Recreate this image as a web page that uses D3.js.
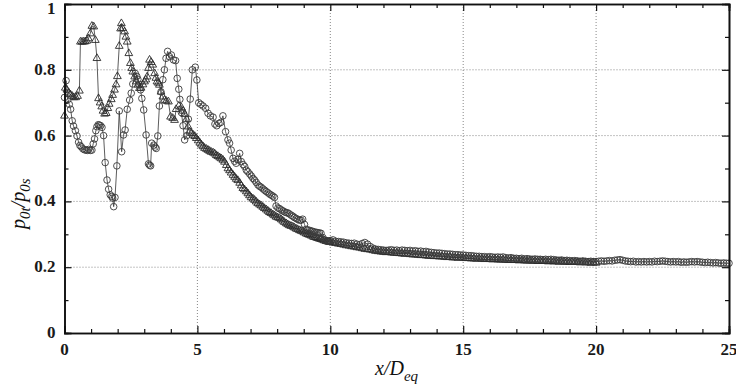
<!DOCTYPE html>
<html>
<head>
<meta charset="utf-8">
<script src="https://cdn.jsdelivr.net/npm/d3@7"></script>
<style>
    body { margin: 0; background: #fff; }
    .tick-label { font-family: "Liberation Serif", "Times New Roman", serif; font-size: 17px; font-weight: bold; fill: #1a1a1a; }
    .axis-title { font-family: "Liberation Serif", "Times New Roman", serif; font-style: italic; fill: #111; }
</style>
</head>
<body>
<svg id="chart" width="736" height="389"></svg>
<script>
// circles, near field (x/Deq, p0t/p0s)
const circNear = [
    [0.00,0.716],[0.06,0.767],[0.13,0.71],[0.18,0.695],[0.23,0.68],[0.29,0.645],[0.34,0.629],[0.41,0.615],
    [0.47,0.599],[0.53,0.58],[0.58,0.57],[0.63,0.566],[0.69,0.56],[0.75,0.557],[0.81,0.556],[0.86,0.555],
    [0.91,0.558],[0.97,0.555],[1.03,0.556],[1.08,0.575],[1.13,0.59],[1.18,0.615],[1.22,0.627],[1.27,0.633],
    [1.31,0.632],[1.36,0.63],[1.41,0.625],[1.47,0.6],[1.53,0.518],[1.6,0.465],[1.66,0.437],[1.72,0.42],
    [1.78,0.415],[1.81,0.41],[1.85,0.384],[1.9,0.412],[1.97,0.508],[2.06,0.675],[2.15,0.551],[2.22,0.602],
    [2.28,0.617],[2.36,0.68],[2.45,0.708],[2.51,0.729],[2.57,0.757],[2.66,0.789],[2.72,0.78],[2.76,0.771],
    [2.81,0.755],[2.86,0.739],[2.91,0.713],[2.98,0.678],[3.07,0.602],[3.16,0.514],[3.2,0.51],[3.24,0.508],
    [3.28,0.577],[3.36,0.571],[3.41,0.565],[3.45,0.561],[3.51,0.599],[3.57,0.69],[3.63,0.733],[3.7,0.77],
    [3.76,0.8],[3.82,0.835],[3.88,0.856],[3.95,0.84],[4.02,0.845],[4.1,0.83],[4.18,0.828],[4.24,0.774],
    [4.3,0.741],[4.34,0.71],[4.4,0.67],[4.46,0.63],[4.52,0.587],[4.6,0.6],[4.66,0.65],[4.73,0.711],
    [4.81,0.8],[4.92,0.808],[4.98,0.769],[5.05,0.7],[5.13,0.695],[5.21,0.69],[5.31,0.683],[5.4,0.668],
    [5.49,0.66],[5.59,0.656],[5.66,0.635],[5.73,0.63],[5.81,0.637],[5.88,0.64],[5.96,0.66],[6.06,0.612],
    [6.15,0.587],[6.21,0.577],[6.27,0.556],[6.34,0.531],[6.4,0.522],[6.46,0.516],[6.53,0.528],[6.59,0.546],
    [6.65,0.521],[6.72,0.512],[6.78,0.506],[6.84,0.495],[6.9,0.49],[6.97,0.483],[7.03,0.477],[7.09,0.47],
    [7.15,0.465],[7.21,0.458],[7.28,0.45],[7.34,0.446],[7.4,0.443],[7.47,0.438],[7.53,0.434],[7.59,0.43],
    [7.66,0.426],[7.72,0.422],[7.78,0.419],[7.84,0.416],[7.9,0.412],[7.96,0.386],[8.03,0.38],[8.09,0.378],
    [8.16,0.374],[8.22,0.371],[8.28,0.368],[8.34,0.366],[8.4,0.365],[8.46,0.362],[8.53,0.358],[8.59,0.355],
    [8.65,0.351],[8.72,0.348],[8.78,0.345],[8.84,0.343],[8.9,0.343],[8.96,0.346],[9.03,0.33],[9.09,0.315],
    [9.15,0.313],[9.22,0.312],[9.28,0.31],[9.34,0.309],[9.4,0.307],[9.47,0.306],[9.53,0.305],[9.59,0.304],
    [9.65,0.303],[9.72,0.29],[9.78,0.282],[9.84,0.28],[9.9,0.279],[9.96,0.279]
];

// circles, far field
const circFar = [
    [10.0,.281],[10.1,.283],[10.2,.279],[10.3,.278],[10.4,.277],[10.5,.276],[10.6,.274],[10.7,.273],[10.8,.272],[10.9,.273],
    [11.0,.27],[11.1,.268],[11.2,.272],[11.3,.275],[11.4,.27],[11.5,.263],[11.6,.258],[11.7,.255],[11.8,.254],[11.9,.253],
    [12.0,.252],[12.1,.251],[12.2,.252],[12.3,.253],[12.4,.251],[12.5,.252],[12.6,.25],[12.7,.252],[12.8,.251],[12.9,.25],
    [13.0,.251],[13.1,.249],[13.2,.25],[13.3,.248],[13.4,.249],[13.5,.247],[13.6,.248],[13.7,.246],[13.8,.245],[13.9,.244],
    [14.0,.243],[14.1,.243],[14.2,.242],[14.3,.241],[14.4,.24],[14.5,.24],[14.6,.239],[14.7,.238],[14.8,.238],[14.9,.237],
    [15.0,.237],[15.1,.236],[15.2,.235],[15.3,.235],[15.4,.234],[15.5,.233],[15.6,.233],[15.7,.232],[15.8,.232],[15.9,.231],
    [16.0,.232],[16.1,.231],[16.2,.23],[16.3,.231],[16.4,.23],[16.5,.231],[16.6,.229],[16.7,.228],[16.8,.229],[16.9,.227],
    [17.0,.227],[17.1,.226],[17.2,.227],[17.3,.225],[17.4,.226],[17.5,.225],[17.6,.224],[17.7,.225],[17.8,.224],[17.9,.224],
    [18.0,.223],[18.1,.224],[18.2,.223],[18.3,.224],[18.4,.223],[18.5,.222],[18.6,.221],[18.7,.222],[18.8,.22],[18.9,.221],
    [19.0,.22],[19.1,.219],[19.2,.22],[19.3,.219],[19.4,.218],[19.5,.219],[19.6,.218],[19.7,.217],[19.8,.218],[19.9,.217],
    [20.0,.217],[20.1,.218],[20.2,.219],[20.3,.218],[20.4,.219],[20.5,.22],[20.6,.219],[20.7,.221],[20.8,.222],[20.9,.223],
    [21.0,.221],[21.1,.219],[21.2,.218],[21.3,.217],[21.4,.218],[21.5,.216],[21.6,.217],[21.7,.216],[21.8,.217],[21.9,.216],
    [22.0,.217],[22.1,.216],[22.2,.218],[22.3,.217],[22.4,.218],[22.5,.219],[22.6,.218],[22.7,.217],[22.8,.216],[22.9,.217],
    [23.0,.216],[23.1,.217],[23.2,.215],[23.3,.216],[23.4,.215],[23.5,.216],[23.6,.217],[23.7,.216],[23.8,.217],[23.9,.216],
    [24.0,.215],[24.1,.214],[24.2,.215],[24.3,.214],[24.4,.213],[24.5,.214],[24.6,.213],[24.7,.212],[24.8,.213],[24.9,.212],
    [25.0,.212]
];

// triangles, near field
const triNear = [
    [0.0,0.66],[0.03,0.745],[0.09,0.739],[0.16,0.73],[0.22,0.725],[0.29,0.72],[0.35,0.716],[0.42,0.716],
    [0.49,0.72],[0.56,0.736],[0.6,0.885],[0.66,0.885],[0.72,0.885],[0.78,0.886],[0.84,0.888],[0.9,0.895],
    [0.97,0.91],[1.03,0.933],[1.1,0.931],[1.16,0.89],[1.22,0.835],[1.28,0.713],[1.34,0.7],[1.4,0.688],
    [1.45,0.675],[1.51,0.666],[1.57,0.668],[1.63,0.683],[1.68,0.696],[1.76,0.71],[1.81,0.723],[1.88,0.739],
    [1.94,0.755],[1.99,0.78],[2.06,0.872],[2.11,0.925],[2.14,0.941],[2.18,0.926],[2.26,0.916],[2.31,0.9],
    [2.36,0.885],[2.42,0.85],[2.48,0.82],[2.53,0.805],[2.57,0.794],[2.64,0.779],[2.7,0.764],[2.76,0.754],
    [2.82,0.744],[2.88,0.745],[2.95,0.755],[3.01,0.764],[3.06,0.77],[3.11,0.779],[3.16,0.805],[3.2,0.83],
    [3.26,0.823],[3.32,0.815],[3.39,0.789],[3.44,0.775],[3.48,0.764],[3.53,0.76],[3.57,0.754],[3.63,0.733],
    [3.7,0.718],[3.76,0.708],[3.83,0.705],[3.91,0.703],[3.99,0.657],[4.07,0.653],[4.14,0.647],[4.2,0.68],
    [4.3,0.69],[4.4,0.685],[4.46,0.675],[4.52,0.665],[4.59,0.65],[4.65,0.627],[4.71,0.612],[4.78,0.607],
    [4.84,0.602],[4.9,0.598],[4.96,0.592],[5.03,0.585],[5.09,0.578],[5.15,0.572],[5.21,0.567],[5.27,0.562],
    [5.34,0.559],[5.4,0.556],[5.46,0.553],[5.52,0.55],[5.59,0.548],[5.65,0.545],[5.71,0.54],[5.77,0.537],
    [5.84,0.533],[5.9,0.53],[5.96,0.526],[6.02,0.52],[6.09,0.51],[6.15,0.5],[6.21,0.494],[6.27,0.487],
    [6.34,0.48],[6.4,0.474],[6.46,0.468],[6.52,0.464],[6.59,0.456],[6.65,0.448],[6.71,0.44],[6.77,0.436],
    [6.84,0.43],[6.9,0.424],[6.96,0.418],[7.02,0.412],[7.09,0.408],[7.15,0.404],[7.21,0.399],[7.27,0.394],
    [7.34,0.39],[7.4,0.387],[7.46,0.383],[7.52,0.379],[7.59,0.375],[7.65,0.371],[7.71,0.367],[7.77,0.364],
    [7.84,0.36],[7.9,0.357],[7.96,0.353],[8.02,0.351],[8.09,0.349],[8.15,0.345],[8.21,0.341],[8.27,0.337],
    [8.34,0.333],[8.4,0.33],[8.46,0.327],[8.52,0.325],[8.59,0.323],[8.65,0.32],[8.71,0.317],[8.77,0.315],
    [8.84,0.312],[8.9,0.31],[8.96,0.308],[9.02,0.305],[9.09,0.302],[9.15,0.3],[9.21,0.298],[9.27,0.296],
    [9.34,0.293],[9.4,0.291],[9.46,0.29],[9.52,0.288],[9.59,0.286],[9.65,0.285],[9.71,0.283],[9.77,0.281],
    [9.84,0.279],[9.9,0.278],[9.96,0.277]
];

// triangles, far field
const triFar = [
    [10.0,.276],[10.1,.274],[10.2,.273],[10.3,.271],[10.4,.27],[10.5,.268],[10.6,.266],[10.7,.265],[10.8,.263],[10.9,.262],
    [11.0,.26],[11.1,.259],[11.2,.257],[11.3,.255],[11.4,.254],[11.5,.253],[11.6,.251],[11.7,.249],[11.8,.248],[11.9,.247],
    [12.0,.246],[12.1,.245],[12.2,.246],[12.3,.244],[12.4,.243],[12.5,.243],[12.6,.242],[12.7,.241],[12.8,.24],[12.9,.241],
    [13.0,.239],[13.1,.238],[13.2,.238],[13.3,.237],[13.4,.236],[13.5,.236],[13.6,.235],[13.7,.234],[13.8,.234],[13.9,.233],
    [14.0,.233],[14.1,.232],[14.2,.232],[14.3,.231],[14.4,.23],[14.5,.231],[14.6,.229],[14.7,.229],[14.8,.228],[14.9,.229],
    [15.0,.228],[15.1,.227],[15.2,.227],[15.3,.226],[15.4,.226],[15.5,.225],[15.6,.226],[15.7,.225],[15.8,.224],[15.9,.225],
    [16.0,.224],[16.1,.223],[16.2,.224],[16.3,.223],[16.4,.222],[16.5,.223],[16.6,.222],[16.7,.221],[16.8,.222],[16.9,.221],
    [17.0,.221],[17.1,.22],[17.2,.221],[17.3,.22],[17.4,.219],[17.5,.22],[17.6,.219],[17.7,.219],[17.8,.218],[17.9,.219],
    [18.0,.218],[18.1,.218],[18.2,.217],[18.3,.218],[18.4,.217],[18.5,.217],[18.6,.216],[18.7,.217],[18.8,.216],[18.9,.216],
    [19.0,.215],[19.1,.216],[19.2,.215],[19.3,.215],[19.4,.214],[19.5,.215],[19.6,.214],[19.7,.214],[19.8,.213],[19.9,.214],
    [20.0,.213]
];

const xTicks = [0, 5, 10, 15, 20, 25];
const xMinorTicks = [1, 2, 3, 4, 6, 7, 8, 9, 11, 12, 13, 14, 16, 17, 18, 19, 21, 22, 23, 24];
const yTicks = [0, 0.2, 0.4, 0.6, 0.8, 1];
const yTickLabels = ["0", "0.2", "0.4", "0.6", "0.8", "1"];
const yMinorTicks = [0.1, 0.3, 0.5, 0.7, 0.9];

drawChart();

function drawChart() {
    let svg = d3.select("#chart");
    let margin = { top: 4, right: 7, bottom: 56, left: 64.5 };
    let width = 736 - margin.left - margin.right;
    let height = 389 - margin.top - margin.bottom;

    let body = svg.append("g")
        .attr("transform", `translate(${margin.left},${margin.top})`);

    let xScale = d3.scaleLinear().domain([0, 25]).range([0, width]);
    let yScale = d3.scaleLinear().domain([0, 1]).range([height, 0]);

    drawGrid(body, xScale, yScale, width, height);

    let circles = circNear.concat(circFar).map(d => ({ x: d[0], y: d[1] }));
    let triangles = triNear.concat(triFar).map(d => ({ x: d[0], y: d[1] }));

    drawSeries(body, triangles, xScale, yScale, "triangle");
    drawSeries(body, circles, xScale, yScale, "circle");

    drawAxes(body, xScale, yScale, width, height);
    drawTitles(svg);
}

function drawGrid(body, xScale, yScale, width, height) {
    let grid = body.append("g").attr("class", "grid");
    grid.selectAll("line.vgrid")
        .data(xTicks.filter(t => t > 0 && t < 25))
        .enter().append("line")
        .attr("class", "vgrid")
        .attr("x1", d => xScale(d)).attr("x2", d => xScale(d))
        .attr("y1", 0).attr("y2", height)
        .attr("stroke", "#888").attr("stroke-width", 1)
        .attr("stroke-dasharray", "1,2");
    grid.selectAll("line.hgrid")
        .data(yTicks.filter(t => t > 0 && t < 1))
        .enter().append("line")
        .attr("class", "hgrid")
        .attr("x1", 0).attr("x2", width)
        .attr("y1", d => yScale(d)).attr("y2", d => yScale(d))
        .attr("stroke", "#888").attr("stroke-width", 1)
        .attr("stroke-dasharray", "1,2");
}

function drawSeries(body, data, xScale, yScale, kind) {
    let line = d3.line()
        .x(d => xScale(d.x))
        .y(d => yScale(d.y));

    body.append("path")
        .datum(data)
        .attr("d", line)
        .attr("fill", "none")
        .attr("stroke", "#333")
        .attr("stroke-width", 0.8);

    if (kind === "circle") {
        body.append("g").selectAll("circle")
            .data(data)
            .enter().append("circle")
            .attr("cx", d => xScale(d.x))
            .attr("cy", d => yScale(d.y))
            .attr("r", 3.3)
            .attr("fill", "none")
            .attr("stroke", "#3a3a3a")
            .attr("stroke-width", 0.9);
    } else {
        let tri = d3.symbol().type(d3.symbolTriangle).size(26);
        body.append("g").selectAll("path")
            .data(data)
            .enter().append("path")
            .attr("d", tri)
            .attr("transform", d => `translate(${xScale(d.x)},${yScale(d.y)})`)
            .attr("fill", "none")
            .attr("stroke", "#2a2a2a")
            .attr("stroke-width", 0.9);
    }
}

function drawAxes(body, xScale, yScale, width, height) {
    let ax = body.append("g").attr("class", "axes");

    // bottom + top, inward ticks
    ax.append("g")
        .attr("transform", `translate(0,${height})`)
        .call(d3.axisBottom(xScale).tickValues(xTicks).tickSize(-7).tickFormat(""));
    ax.append("g")
        .attr("transform", `translate(0,${height})`)
        .call(d3.axisBottom(xScale).tickValues(xMinorTicks).tickSize(-4).tickFormat(""));
    ax.append("g")
        .call(d3.axisTop(xScale).tickValues(xTicks).tickSize(-7).tickFormat(""));
    ax.append("g")
        .call(d3.axisTop(xScale).tickValues(xMinorTicks).tickSize(-4).tickFormat(""));

    // left + right
    ax.append("g")
        .call(d3.axisLeft(yScale).tickValues(yTicks).tickSize(-7).tickFormat(""));
    ax.append("g")
        .call(d3.axisLeft(yScale).tickValues(yMinorTicks).tickSize(-4).tickFormat(""));
    ax.append("g")
        .attr("transform", `translate(${width},0)`)
        .call(d3.axisRight(yScale).tickValues(yTicks).tickSize(-7).tickFormat(""));
    ax.append("g")
        .attr("transform", `translate(${width},0)`)
        .call(d3.axisRight(yScale).tickValues(yMinorTicks).tickSize(-4).tickFormat(""));

    ax.selectAll(".domain").attr("stroke", "#111").attr("stroke-width", 1.6);
    ax.selectAll(".tick line").attr("stroke", "#111").attr("stroke-width", 1.2);

    // tick labels
    body.append("g").selectAll("text")
        .data(xTicks)
        .enter().append("text")
        .attr("class", "tick-label")
        .attr("x", d => xScale(d))
        .attr("y", height + 22)
        .attr("text-anchor", "middle")
        .text(d => d);
    body.append("g").selectAll("text")
        .data(yTicks)
        .enter().append("text")
        .attr("class", "tick-label")
        .attr("x", -9)
        .attr("y", d => Math.max(yScale(d) + 5, 10))
        .attr("text-anchor", "end")
        .text((d, i) => yTickLabels[i]);
}

function drawTitles(svg) {
    let xt = svg.append("text")
        .attr("class", "axis-title")
        .attr("x", 375)
        .attr("y", 375)
        .style("font-size", "20px");
    xt.append("tspan").text("x/D");
    xt.append("tspan").attr("dy", 6).style("font-size", "15px").text("eq");

    let yt = svg.append("text")
        .attr("class", "axis-title")
        .attr("transform", "translate(25,229) rotate(-90)")
        .style("font-size", "20px");
    yt.append("tspan").text("p");
    yt.append("tspan").attr("dy", 5).style("font-size", "15px").text("0t");
    yt.append("tspan").attr("dy", -5).text("/p");
    yt.append("tspan").attr("dy", 5).style("font-size", "15px").text("0s");
}
</script>
</body>
</html>
